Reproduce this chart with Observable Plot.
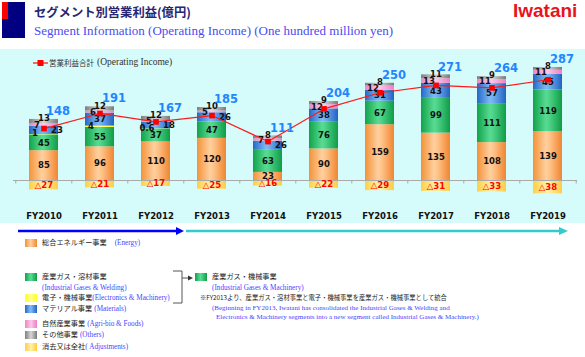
<!DOCTYPE html>
<html><head><meta charset="utf-8">
<script src="https://cdn.jsdelivr.net/npm/d3@7"></script>
<script src="https://cdn.jsdelivr.net/npm/@observablehq/plot@0.6"></script>
<style>
body{margin:0;background:#fff;}
#wrap{position:relative;width:585px;height:357px;overflow:hidden;font-family:"Noto Sans CJK JP",sans-serif;}
.abs{position:absolute;white-space:nowrap;line-height:1;}
.jp{font-family:"Noto Sans CJK JP",sans-serif;color:#222;}
.en{font-family:"Liberation Serif",serif;color:#4646ff;}
.sw{position:absolute;width:12px;height:8px;}
#chart{position:absolute;left:0;top:49px;}
</style></head><body><div id="wrap">
<div class="abs" style="left:2px;top:2px;width:23px;height:36px;background:#000080;"></div>
<div class="abs" style="left:2px;top:2px;width:6px;height:17px;background:#ff0000;"></div>
<div class="abs" style="left:34px;top:6px;font-size:12.3px;font-weight:bold;color:#262673;">セグメント別営業利益(億円)</div>
<div class="abs" style="left:34px;top:24px;font-family:'Liberation Serif',serif;font-size:13px;color:#4b4bf0;">Segment Information (Operating Income) (One hundred million yen)</div>
<div class="abs" style="left:513px;top:1px;font-family:'Liberation Sans',sans-serif;font-weight:bold;font-size:19px;color:#e8141c;">Iwatani</div>
<div id="chart"></div>
<div class="abs" style="left:33px;top:58px;display:flex;align-items:center;font-size:8px;">
  <svg width="15" height="8"><line x1="0" y1="4" x2="15" y2="4" stroke="#ff1a1a" stroke-width="1.3"/><rect x="4.5" y="1" width="6" height="6" fill="#ff0000"/></svg>
  <span style="font-size:7.5px;color:#333;margin-left:1px;">営業利益合計</span>
  <span style="font-family:'Liberation Serif',serif;font-size:9.5px;color:#333;margin-left:3px;">(Operating Income)</span>
</div>
<svg class="abs" style="left:0;top:223px;" width="585" height="18">
  <line x1="18" y1="8" x2="178" y2="8" stroke="#0000ff" stroke-width="2.5"/>
  <polygon points="176,4 184,8 176,12" fill="#0000ff"/>
  <line x1="186" y1="8" x2="561" y2="8" stroke="#33cccc" stroke-width="2.5"/>
  <polygon points="559,4 568,8 559,12" fill="#33cccc"/>
</svg>
</div>
<script>
const years = ["FY2010","FY2011","FY2012","FY2013","FY2014","FY2015","FY2016","FY2017","FY2018","FY2019"];
const energy = [85, 96, 110, 120, 23, 90, 159, 135, 108, 139];
const industrialGases = [45, 55, 37, 47, 63, 76, 67, 99, 111, 119];
const electronicsMachinery = [1, 4, 0.6, null, null, null, null, null, null, null];
const materials = [23, 37, 18, 26, 26, 38, 31, 43, 57, 45];
const agriBio = [7, 6, 5, 5, 7, 12, 12, 13, 11, 11];
const others = [13, 12, 12, 10, 8, 9, 8, 11, 9, 8];
const adjustments = [-27, -21, -17, -25, -16, -22, -29, -31, -33, -38];
const operatingIncome = [148, 191, 167, 185, 111, 204, 250, 271, 264, 287];

const segments = [
  {key: "energy", values: energy},
  {key: "gases", values: industrialGases},
  {key: "electronics", values: electronicsMachinery},
  {key: "materials", values: materials},
  {key: "agri", values: agriBio},
  {key: "others", values: others}
];
const gradients = {
  energy: [[0, "#f39237"], [0.45, "#ffcf9f"], [0.55, "#ffc68e"], [1, "#f08630"]],
  gases: [[0, "#10a24a"], [0.45, "#58db93"], [0.55, "#4fd489"], [1, "#0f9c46"]],
  electronics: [[0, "#ffff20"], [0.5, "#ffff90"], [1, "#ffff20"]],
  materials: [[0, "#2468c8"], [0.45, "#7dbaf6"], [0.55, "#72b0f0"], [1, "#2262c2"]],
  agri: [[0, "#ee86c4"], [0.5, "#ffc6ea"], [1, "#ec80c0"]],
  others: [[0, "#7f7f7f"], [0.5, "#d6d6d6"], [1, "#7a7a7a"]],
  adj: [[0, "#ffcf45"], [0.5, "#fff2aa"], [1, "#ffcc40"]]
};

const rows = [];
const totals = [];
years.forEach((yr, i) => {
  let base = 0;
  for (const s of segments) {
    const v = s.values[i];
    if (v == null) continue;
    rows.push({year: yr, seg: s.key, value: v, y1: base, y2: base + v, mid: base + v / 2});
    base += v;
  }
  const a = adjustments[i];
  rows.push({year: yr, seg: "adj", value: a, y1: a, y2: 0, mid: a / 2});
  totals.push({year: yr, top: base, total: operatingIncome[i]});
});
const seg = k => rows.filter(r => r.seg === k);
const lbl = {fontSize: 8.5, fontWeight: "bold", fontFamily: "DejaVu Sans", fill: "#111"};
const step = 564 / years.length;

const bars = Object.keys(gradients).map(k =>
  Plot.barY(seg(k), {x: "year", y1: "y1", y2: "y2", fill: `url(#g-${k})`}));

const svg = Plot.plot({
  width: 585, height: 174,
  marginLeft: 13, marginRight: 8, marginTop: 0, marginBottom: 14,
  style: {background: "#d6fbfb", overflow: "visible"},
  x: {domain: years, paddingInner: 0.486, paddingOuter: 0.243, axis: null},
  y: {domain: [0, 300], range: [131, 131 - 300 * 0.351], axis: null},
  marks: [
    ...bars,
    Plot.ruleY([0], {stroke: "#a9a9a9", strokeWidth: 1}),
    Plot.ruleX(years, {x: d => d, dx: -step / 2, y1: 0, y2: -10, stroke: "#a9a9a9"}),
    Plot.ruleX(years.slice(-1), {x: d => d, dx: step / 2, y1: 0, y2: -10, stroke: "#a9a9a9"}),
    Plot.text(seg("energy"), {x: "year", y: "mid", text: d => String(d.value), ...lbl}),
    Plot.text(seg("gases"), {x: "year", y: "mid", text: d => String(d.value), ...lbl}),
    Plot.text(seg("electronics"), {x: "year", y: "mid", text: d => String(d.value), dx: -9, dy: -1, ...lbl}),
    Plot.text(seg("materials").filter(d => d.value < 30), {x: "year", y: "mid", text: d => String(d.value), dx: 13, ...lbl}),
    Plot.text(seg("materials").filter(d => d.value >= 30), {x: "year", y: "mid", text: d => String(d.value), ...lbl}),
    Plot.text(seg("agri"), {x: "year", y: "mid", text: d => String(d.value), dx: -7, ...lbl}),
    Plot.text(seg("others"), {x: "year", y: "y2", text: d => String(d.value), dy: -1, ...lbl}),
    Plot.text(seg("adj"), {x: "year", y: "mid", text: d => "△" + Math.abs(d.value), ...lbl, fill: "#ff0000"}),
    Plot.line(totals, {x: "year", y: "total", stroke: "#ff1a1a", strokeWidth: 1.2}),
    Plot.dot(totals, {x: "year", y: "total", symbol: "square", r: 3.2, fill: "#ff0000"}),
    Plot.text(totals, {x: "year", y: "top", text: d => String(d.total), dx: 14, dy: -8, fontSize: 11.5, fontWeight: "bold", fontFamily: "DejaVu Sans", fill: "#1f86ff"}),
    Plot.axisX({tickSize: 0, tickPadding: 3, label: null, fontSize: 8.5, fontWeight: "bold", fontFamily: "DejaVu Sans", fill: "#111"})
  ]
});
const defs = d3.select(svg).insert("defs", ":first-child");
for (const [k, stops] of Object.entries(gradients)) {
  const g = defs.append("linearGradient").attr("id", "g-" + k).attr("x1", 0).attr("x2", 1).attr("y1", 0).attr("y2", 0);
  stops.forEach(([o, c]) => g.append("stop").attr("offset", o).attr("stop-color", c));
}
document.getElementById("chart").appendChild(svg);

// lower legend
const css = k => `linear-gradient(90deg, ${gradients[k].map(([o, c]) => c + " " + (o * 100) + "%").join(",")})`;
const legendItems = [
  {k: "energy", x: 25, y: 243, jp: "総合エネルギー事業", en: "(Energy)", gap: 8},
  {k: "gases", x: 25, y: 277, jp: "産業ガス・溶材事業", en: ""},
  {k: null, x: 25, y: 288, jp: "", en: "(Industrial Gases & Welding)"},
  {k: "electronics", x: 25, y: 298, jp: "電子・機械事業", en: "(Electronics & Machinery)", gap: 0},
  {k: "materials", x: 25, y: 309, jp: "マテリアル事業", en: "(Materials)", gap: 2},
  {k: "agri", x: 25, y: 324, jp: "自然産業事業", en: "(Agri-bio & Foods)", gap: 2},
  {k: "others", x: 25, y: 335, jp: "その他事業", en: "(Others)", gap: 2},
  {k: "adj", x: 25, y: 347, jp: "消去又は全社", en: "( Adjustments)", gap: 0},
  {k: "gases", x: 195, y: 277, jp: "産業ガス・機械事業", en: ""},
  {k: null, x: 195, y: 288, jp: "", en: "(Industrial Gases & Machinery)"}
];
const wrap = document.getElementById("wrap");
for (const it of legendItems) {
  if (it.k) {
    const s = document.createElement("div");
    s.className = "sw"; s.style.left = it.x + "px"; s.style.top = (it.y - 4) + "px";
    s.style.background = css(it.k);
    wrap.appendChild(s);
  }
  const t = document.createElement("div");
  t.className = "abs"; t.style.left = (it.x + 17) + "px"; t.style.top = (it.y - 4) + "px";
  t.style.fontSize = "7.2px";
  t.innerHTML = (it.jp ? `<span class="jp">${it.jp}</span>` : "") +
    (it.en ? `<span class="en" style="margin-left:${it.jp ? it.gap : 0}px">${it.en}</span>` : "");
  wrap.appendChild(t);
}
const notes = [
  {x: 200, y: 299, cls: "jp", size: 6.3, text: "※FY2013より、産業ガス・溶材事業と電子・機械事業を産業ガス・機械事業として統合"},
  {x: 212, y: 309, cls: "en", size: 7, text: "(Beginning in FY2013, Iwatani has consolidated the Industrial Gases &amp; Welding and"},
  {x: 216, y: 318, cls: "en", size: 7, text: "Electronics &amp; Machinery segments into a new segment called Industrial Gases &amp; Machinery.)"}
];
for (const n of notes) {
  const t = document.createElement("div");
  t.className = "abs " + n.cls; t.style.left = n.x + "px"; t.style.top = (n.y - 4) + "px"; t.style.fontSize = n.size + "px";
  t.innerHTML = n.text;
  wrap.appendChild(t);
}
const br = document.createElementNS("http://www.w3.org/2000/svg", "svg");
br.setAttribute("class", "abs"); br.setAttribute("width", "30"); br.setAttribute("height", "40");
br.style.left = "170px"; br.style.top = "268px";
br.innerHTML = '<polyline points="3,3 12,3 12,35 3,35" fill="none" stroke="#555" stroke-width="1"/><line x1="12" y1="10" x2="19" y2="10" stroke="#555" stroke-width="1"/><polygon points="18,7.5 23,10 18,12.5" fill="#333"/>';
wrap.appendChild(br);
</script>
</body></html>
